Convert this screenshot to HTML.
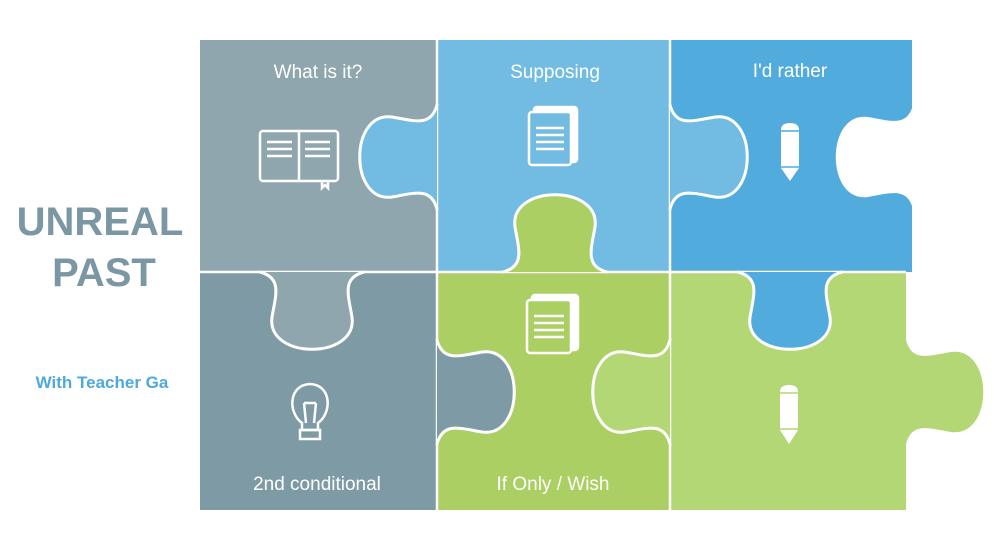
<!DOCTYPE html>
<html><head><style>
body{margin:0;background:#fff;}
svg{display:block;}
text{font-family:"Liberation Sans",sans-serif;}
</style></head><body>
<svg width="1000" height="550" viewBox="0 0 1000 550">
<defs>
<path id="tf" d="M0,-52 C6,-30 22,-36 45,-40 C88,-46 88,46 45,40 C22,36 6,30 0,52 Z"/>
<path id="ts" d="M0,-52 C6,-30 22,-36 45,-40 C88,-46 88,46 45,40 C22,36 6,30 0,52"/>
</defs>
<rect x="200" y="40" width="237" height="232" fill="#8fa6ae"/>
<rect x="437" y="40" width="233" height="232" fill="#72bbe2"/>
<rect x="670" y="40" width="242" height="232" fill="#52abdd"/>
<rect x="200" y="272" width="237" height="238" fill="#7e9aa5"/>
<rect x="437" y="272" width="233" height="238" fill="#abcf62"/>
<rect x="670" y="272" width="236" height="238" fill="#b3d774"/>
<g stroke="#fff" stroke-width="2.5">
<line x1="437" y1="40" x2="437" y2="510"/>
<line x1="670" y1="40" x2="670" y2="510"/>
<line x1="200" y1="272" x2="906" y2="272"/>
</g>
<g transform="translate(913,157) rotate(180)"><use href="#tf" fill="#fff"/></g>
<g stroke="#fff" stroke-width="3" stroke-linecap="round">
<g transform="translate(437,157) rotate(180)"><use href="#tf" fill="#72bbe2" stroke="none"/><use href="#ts" fill="none"/></g>
<g transform="translate(670,157)"><use href="#tf" fill="#72bbe2" stroke="none"/><use href="#ts" fill="none"/></g>
<g transform="translate(555,272) rotate(-90)"><use href="#tf" fill="#abcf62" stroke="none"/><use href="#ts" fill="none"/></g>
<g transform="translate(312,272) rotate(90)"><use href="#tf" fill="#8fa6ae" stroke="none"/><use href="#ts" fill="none"/></g>
<g transform="translate(790,272) rotate(90)"><use href="#tf" fill="#52abdd" stroke="none"/><use href="#ts" fill="none"/></g>
<g transform="translate(437,392)"><use href="#tf" fill="#7e9aa5" stroke="none"/><use href="#ts" fill="none"/></g>
<g transform="translate(670,392) rotate(180)"><use href="#tf" fill="#b3d774" stroke="none"/><use href="#ts" fill="none"/></g>
</g>
<g transform="translate(906,392)"><use href="#tf" fill="#b3d774"/></g>
<text x="100" y="235" text-anchor="middle" font-size="40" font-weight="bold" fill="#7b97a3">UNREAL</text>
<text x="104" y="286" text-anchor="middle" font-size="40" font-weight="bold" fill="#7b97a3">PAST</text>
<text x="102" y="388" text-anchor="middle" font-size="17" font-weight="bold" fill="#4ea9dc">With Teacher Ga</text>
<g fill="#fff" font-size="19" text-anchor="middle">
<text x="318" y="78">What is it?</text>
<text x="555" y="78">Supposing</text>
<text x="790" y="77">I'd rather</text>
<text x="317" y="490">2nd conditional</text>
<text x="553" y="490">If Only / Wish</text>
</g>
<g fill="none" stroke="#fff" stroke-width="2.5">
<rect x="260" y="131" width="78" height="50" rx="3"/>
<line x1="299" y1="131" x2="299" y2="181"/>
<path d="M267,142h25M267,149h25M267,156h25M305,142h25M305,149h25M305,156h25"/>
<path d="M322,181v7l3,-3l3,3v-7"/>
<rect x="534" y="107" width="43" height="55" rx="3" fill="#fff"/>
<rect x="529" y="112" width="42" height="53" rx="3" fill="#72bbe2"/>
<path d="M536,128h28M536,135h28M536,142h28M536,149h28"/>
<rect x="532" y="295" width="46" height="55" rx="3" fill="#fff"/>
<rect x="527" y="300" width="44" height="53" rx="3" fill="#abcf62"/>
<path d="M534,316h30M534,323h30M534,330h30M534,337h30"/>
<path d="M302,423 C288,413 288,385 310,384 C332,385 332,413 318,423 L318,430 L302,430 Z"/>
<path d="M300,430h20v9h-20z"/>
<path d="M306,423l-2,-20M314,423l2,-20M304,403h12"/>
</g>
<g fill="#fff">
<path d="M781,130 q0,-7 9,-7 q9,0 9,7 v38 l-9,13 l-9,-13z"/>
<path d="M780,392 q0,-7 9,-7 q9,0 9,7 v38 l-9,14 l-9,-14z"/>
</g>
<g stroke="#52abdd" stroke-width="1.5"><line x1="781" y1="131" x2="799" y2="131"/><line x1="781" y1="167" x2="799" y2="167"/></g>
<g stroke="#b3d774" stroke-width="1.5"><line x1="780" y1="393" x2="798" y2="393"/><line x1="780" y1="429" x2="798" y2="429"/></g>
</svg>
</body></html>
